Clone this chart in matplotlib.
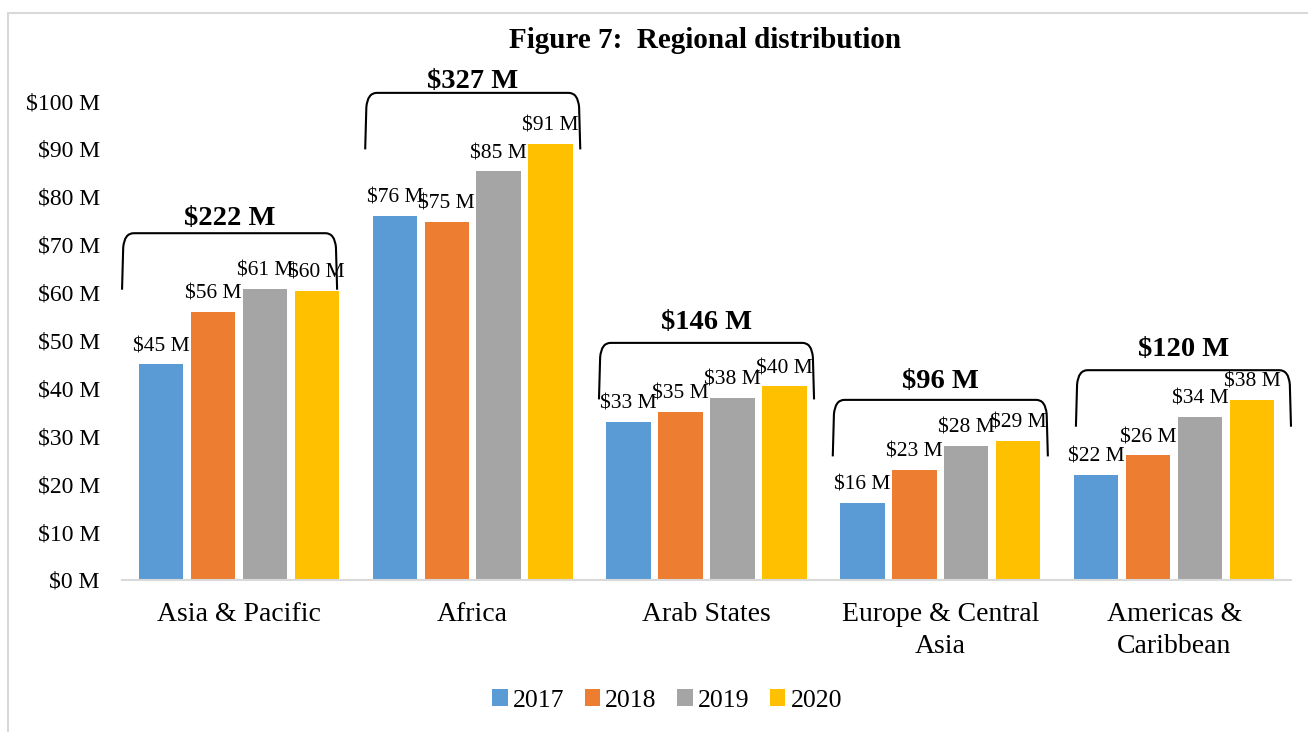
import matplotlib.pyplot as plt
import numpy as np
from matplotlib.path import Path
from matplotlib.patches import PathPatch, Rectangle

plt.rcParams['font.family'] = ['Liberation Serif', 'DejaVu Serif']

regions = ['Asia & Pacific', 'Africa', 'Arab States', 'Europe & Central\nAsia', 'Americas &\nCaribbean']
years = ['2017', '2018', '2019', '2020']
v2017 = [45, 76, 33, 16, 22]
v2018 = [56, 74.8, 35, 23, 26]
v2019 = [60.8, 85.3, 38, 28, 34]
v2020 = [60.4, 91, 40.4, 29, 37.6]
colors = ['#5B9BD5', '#ED7D31', '#A5A5A5', '#FFC000']

series = [v2017, v2018, v2019, v2020]
totals = np.sum(series, axis=0)

fig = plt.figure(figsize=(13.08, 7.32), dpi=100)
# light border round the chart
fig.patches.append(Rectangle((8/1308, -0.1), 1.2, 1.1 - 13/732, transform=fig.transFigure,
                             fill=False, edgecolor='#d9d9d9', linewidth=1.5))
ax = fig.add_axes([0.0933, 0.2077, 0.8937, 0.6543])

x = np.arange(len(regions))
step = 0.222
width = 0.19
for i, vals in enumerate(series):
    pos = x + (i - 1.5) * step
    bars = ax.bar(pos, vals, width, color=colors[i], label=years[i], zorder=2)
    for b, v in zip(bars, vals):
        ax.annotate(f'${v:.0f} M', (b.get_x() + b.get_width() / 2, v), xytext=(0, 6),
                    textcoords='offset points', ha='center', va='bottom', fontsize=15.5)

# brackets with group totals (hand placed, like the original)
tops = [72.4, 101.7, 49.5, 37.6, 43.8]
shift = [-0.04, 0, 0, 0, 0.04]
lab_gap = [3.1, 2.4, 4.3, 3.8, 4.3]
half = 0.46
depth = 11.8
for xc, dx, top, gap, tot in zip(x, shift, tops, lab_gap, totals):
    xc = xc + dx
    x0, x1 = xc - half, xc + half
    verts = [(x0, top - depth), (x0 + 0.005, top - 3), (x0 + 0.01, top), (x0 + 0.05, top),
             (x1 - 0.05, top), (x1 - 0.01, top), (x1 - 0.005, top - 3), (x1, top - depth)]
    codes = [Path.MOVETO, Path.LINETO, Path.CURVE3, Path.CURVE3,
             Path.LINETO, Path.CURVE3, Path.CURVE3, Path.LINETO]
    ax.add_patch(PathPatch(Path(verts, codes), fill=False, lw=1.5, edgecolor='black',
                           clip_on=False, zorder=3))
    ax.text(xc, top + gap, f'${tot:.0f} M', ha='center', va='center', fontsize=20.5,
            fontweight='bold', clip_on=False)

ax.set_xlim(-0.5, 4.5)
ax.set_ylim(0, 100)
ax.set_yticks(np.arange(0, 101, 10))
ax.set_yticklabels([f'${t} M' for t in range(0, 101, 10)], fontsize=17)
ax.set_xticks(x)
ax.set_xticklabels(regions, fontsize=20, linespacing=1.35)
ax.tick_params(axis='x', length=0, pad=16)
ax.tick_params(axis='y', length=0, pad=16)
for s in ['top', 'right', 'left']:
    ax.spines[s].set_visible(False)
ax.spines['bottom'].set_color('#d9d9d9')
ax.spines['bottom'].set_linewidth(1.5)

fig.text(0.539, 0.945, 'Figure 7:  Regional distribution', ha='center', va='center',
         fontsize=21, fontweight='bold')

fig.legend(loc='center', bbox_to_anchor=(0.51, 0.043), ncol=4, frameon=False, fontsize=18.5,
           handlelength=0.6, handleheight=0.6, handletextpad=0.2, columnspacing=0.8)

fig.savefig('out.png', dpi=100)
